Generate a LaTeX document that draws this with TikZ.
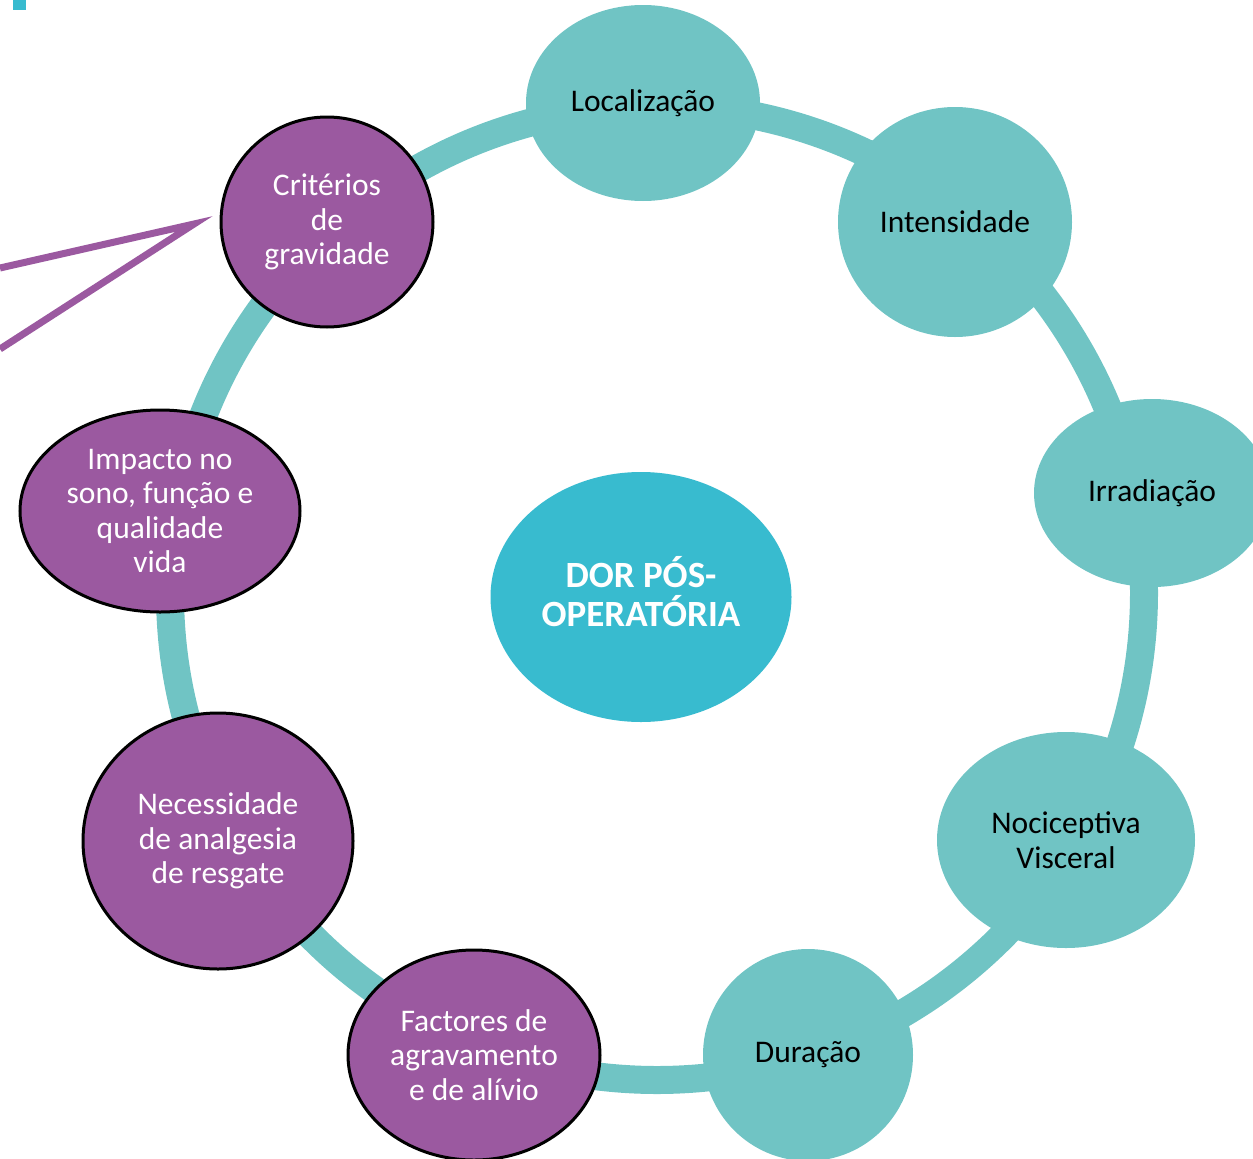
\documentclass[tikz,border=0pt]{standalone}
\usepackage{fontspec}
\setmainfont{Carlito}
\usetikzlibrary{shapes.geometric}
\definecolor{teal1}{RGB}{112,196,196}
\definecolor{purp}{RGB}{155,89,160}
\definecolor{cyanc}{RGB}{56,187,207}
\tikzset{
  base/.style={ellipse, inner sep=0pt, align=center, font=\fontsize{31.5}{34.5}\selectfont},
  tealnode/.style={base, fill=teal1, text=black},
  purpnode/.style={base, fill=purp, draw=black, line width=3pt, text=white},
  centernode/.style={ellipse, inner sep=0pt, align=center, fill=cyanc, text=white,
     font=\fontsize{37}{38}\selectfont\bfseries},
  ring/.style={draw=teal1, line width=28pt},
  pointer/.style={draw=purp, line width=7pt, line join=miter}
}
\begin{document}
\begin{tikzpicture}[x=1pt,y=-1pt]
\useasboundingbox (0,0) rectangle (1253,1159);
\fill[cyanc] (13,0) rectangle (26,10);
\coordinate (rc) at (657,593);
\draw[ring] (rc) circle (487);
\coordinate (p1) at (0,268);
\coordinate (p2) at (194,224);
\coordinate (p3) at (0,349);
\draw[pointer] (p1) -- (p2) -- (p3);
\node[tealnode, minimum width=234, minimum height=196] (loc) at (643,103) {Localização};
\node[tealnode, minimum width=234, minimum height=230] (int) at (955,222) {Intensidade};
\node[tealnode, minimum width=236, minimum height=188] (irr) at (1152,493) {Irradiação};
\node[tealnode, minimum width=258, minimum height=216] (noc) at (1066,840) {Nociceptiva\\Visceral};
\node[tealnode, minimum width=210, minimum height=212] (dur) at (808,1055) {Duração};
\node[purpnode, minimum width=252, minimum height=210] (fac) at (474,1055) {Factores de\\agravamento\\e de alívio};
\node[purpnode, minimum width=270, minimum height=256] (nec) at (218,841) {Necessidade\\de analgesia\\de resgate};
\node[purpnode, minimum width=280, minimum height=202] (imp) at (160,511) {Impacto no\\sono, função e\\qualidade\\vida};
\node[purpnode, minimum width=212, minimum height=210] (cri) at (327,222) {Critérios\\de\\gravidade};
\node[centernode, minimum width=301, minimum height=250] (ctr) at (641,597) {\raisebox{4pt}{\begin{tabular}{@{}c@{}}DOR PÓS-\\[-3pt]OPERATÓRIA\end{tabular}}};
\end{tikzpicture}
\end{document}
